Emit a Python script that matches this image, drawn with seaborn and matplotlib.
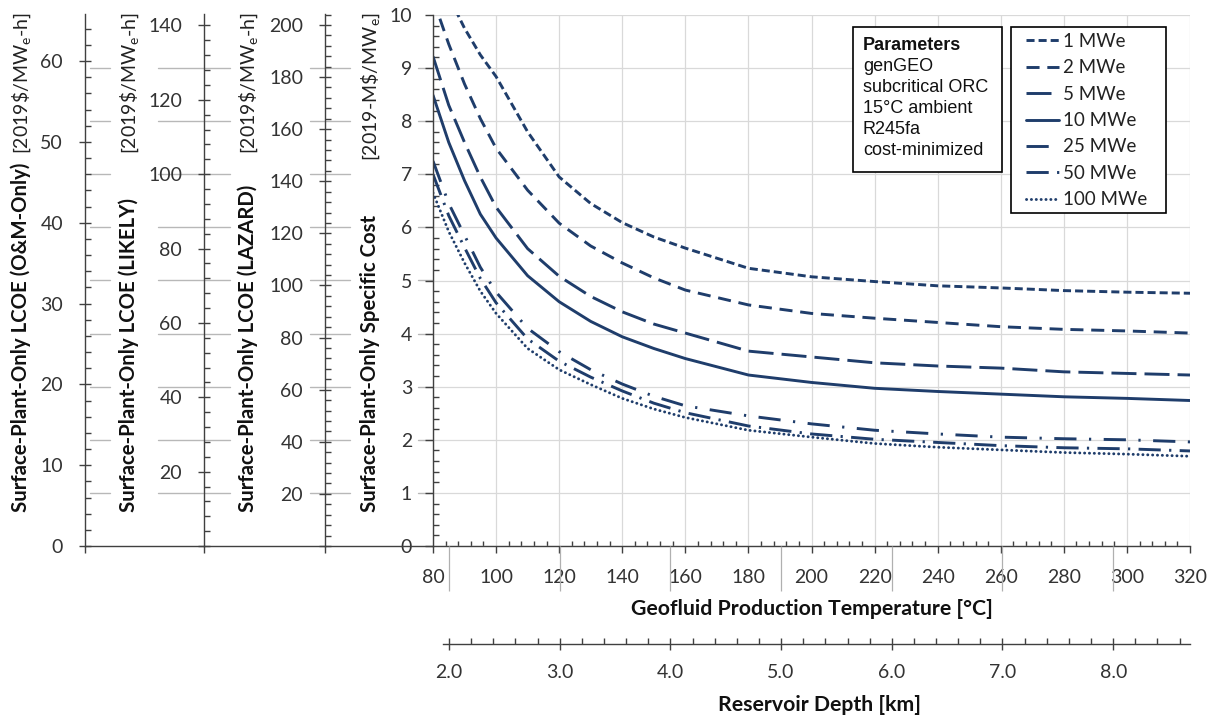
import numpy as np
import pandas as pd
import matplotlib
matplotlib.use("Agg")
import matplotlib.pyplot as plt
import seaborn as sns
from matplotlib.patches import Rectangle
from matplotlib.lines import Line2D
from matplotlib.ticker import MultipleLocator, FuncFormatter

# ---------------- data ----------------
temps = [80, 85, 90, 95, 100, 110, 120, 130, 140, 150, 160, 180, 200, 220, 240, 260, 280, 300, 320]
cost_1mwe = [11.0, 10.35, 9.75, 9.25, 8.84, 7.80, 6.95, 6.45, 6.09, 5.82, 5.61, 5.23, 5.07, 4.98, 4.90, 4.86, 4.81, 4.78, 4.76]
cost_2mwe = [10.3, 9.45, 8.70, 8.05, 7.49, 6.70, 6.08, 5.65, 5.33, 5.05, 4.82, 4.54, 4.38, 4.29, 4.21, 4.13, 4.08, 4.05, 4.01]
cost_5mwe = [9.22, 8.30, 7.60, 6.95, 6.38, 5.60, 5.08, 4.70, 4.41, 4.18, 4.01, 3.67, 3.56, 3.45, 3.39, 3.35, 3.28, 3.25, 3.22]
cost_10mwe = [8.49, 7.60, 6.88, 6.25, 5.80, 5.09, 4.60, 4.23, 3.94, 3.72, 3.53, 3.22, 3.08, 2.97, 2.91, 2.86, 2.81, 2.78, 2.74]
cost_25mwe = [7.25, 6.45, 5.85, 5.25, 4.78, 4.10, 3.66, 3.32, 3.05, 2.82, 2.64, 2.45, 2.30, 2.18, 2.11, 2.05, 2.02, 2.00, 1.96]
cost_50mwe = [7.00, 6.22, 5.62, 5.04, 4.58, 3.90, 3.48, 3.18, 2.92, 2.69, 2.51, 2.26, 2.11, 2.01, 1.95, 1.89, 1.85, 1.83, 1.79]
cost_100mwe = [6.65, 5.92, 5.33, 4.80, 4.38, 3.72, 3.32, 3.04, 2.78, 2.58, 2.42, 2.18, 2.05, 1.93, 1.86, 1.81, 1.76, 1.73, 1.69]

series_labels = ["1 MWe", "2 MWe", "5 MWe", "10 MWe", "25 MWe", "50 MWe", "100 MWe"]
depth_ticks = [2.0, 3.0, 4.0, 5.0, 6.0, 7.0, 8.0]
param_lines = ["genGEO", "subcritical ORC", "15\u00b0C ambient", "R245fa", "cost-minimized"]

# ---------------- style ----------------
sns.set_theme(style="white")
plt.rcParams["font.family"] = ["Lato", "DejaVu Sans"]
plt.rcParams["mathtext.fontset"] = "custom"
plt.rcParams["mathtext.rm"] = "Lato"
plt.rcParams["mathtext.it"] = "Lato:italic"
plt.rcParams["mathtext.bf"] = "Lato:bold"
plt.rcParams["lines.scale_dashes"] = False

NAVY = "#1f3d6b"
SPINE = "#404040"
TXT = "#333333"
GRID = "#d9d9d9"
FS = 14

W, H = 1220, 721
fig = plt.figure(figsize=(W / 100, H / 100), dpi=100)
fig.patch.set_facecolor("white")


def fx(x):
    return x / W


def fy(y):
    return 1 - y / H


def frame(x0, y0, x1, y1):
    return [fx(x0), fy(y1), (x1 - x0) / W, (y1 - y0) / H]


# ---------------- main axes ----------------
ax = fig.add_axes(frame(433, 15, 1190, 546))
ax.set_facecolor("none")

df = pd.DataFrame({"T": temps, "1 MWe": cost_1mwe, "2 MWe": cost_2mwe, "5 MWe": cost_5mwe,
                   "10 MWe": cost_10mwe, "25 MWe": cost_25mwe, "50 MWe": cost_50mwe,
                   "100 MWe": cost_100mwe})
styles = {
    "1 MWe": (5.8, 2.9),
    "2 MWe": (9.4, 5.6),
    "5 MWe": (18.0, 5.8),
    "10 MWe": None,
    "25 MWe": (16.0, 9.0, 1.6, 9.0),
    "50 MWe": (16.0, 6.0, 1.6, 6.0),
    "100 MWe": (0.1, 3.4),
}
handles = []
for lab in series_labels:
    sns.lineplot(data=df, x="T", y=lab, ax=ax, color=NAVY, lw=2.1, label=lab, legend=False)
    ln = ax.lines[-1]
    if styles[lab] is None:
        ln.set_linestyle("-")
    else:
        ln.set_dashes(styles[lab])
    if lab == "100 MWe":
        ln.set_dash_capstyle("round")
    handles.append(ln)

ax.set_xlim(80, 320)
ax.set_ylim(0, 10)
ax.set_xlabel("")
ax.set_ylabel("")
ax.grid(True, which="major", color=GRID, lw=0.9)
ax.set_axisbelow(True)
for s in ["top", "right"]:
    ax.spines[s].set_visible(False)
for s in ["left", "bottom"]:
    ax.spines[s].set_color(SPINE)
    ax.spines[s].set_linewidth(1.0)
ax.xaxis.set_major_locator(MultipleLocator(20))
ax.xaxis.set_minor_locator(MultipleLocator(4))
ax.yaxis.set_major_locator(MultipleLocator(1))
ax.yaxis.set_minor_locator(MultipleLocator(0.2))
ax.tick_params(axis="x", which="major", direction="out", length=5, width=1, color=SPINE,
               pad=11.5, labelsize=FS, labelcolor=TXT, bottom=True)
ax.tick_params(axis="x", which="minor", direction="in", length=3.6, width=1, color=SPINE, bottom=True)
ax.tick_params(axis="y", which="major", direction="out", length=5.8, width=1, color=SPINE,
               pad=9.3, labelsize=FS, labelcolor=TXT, left=True)
ax.tick_params(axis="y", which="minor", direction="in", length=4.3, width=1, color=SPINE, left=True)

# legend (frame drawn separately)
leg = ax.legend(handles, series_labels, loc="upper left", bbox_to_anchor=(fx(1026), fy(33)),
                bbox_transform=fig.transFigure, frameon=False, borderpad=0, borderaxespad=0,
                prop={"family": "Lato", "size": 13.5}, handlelength=1.75, handletextpad=0.2,
                labelspacing=0.5)
for t in leg.get_texts():
    t.set_color("#222222")
leg.set_zorder(6)
ax.add_patch(Rectangle((fx(1011), fy(213)), (1166 - 1011) / W, (213 - 27) / H,
                       transform=fig.transFigure, facecolor="white", edgecolor="black",
                       lw=1.2, zorder=4, clip_on=False))

# parameters box
ax.add_patch(Rectangle((fx(853), fy(172)), (1002 - 853) / W, (172 - 27) / H,
                       transform=fig.transFigure, facecolor="white", edgecolor="black",
                       lw=1.2, zorder=4, clip_on=False))
ax.text(fx(863), fy(50), "Parameters", transform=fig.transFigure, ha="left", va="baseline",
        fontsize=13, fontweight="bold", family="Liberation Sans", color="#111111", zorder=6)
for i, line in enumerate(param_lines):
    ax.text(fx(863), fy(71 + 21 * i), line, transform=fig.transFigure, ha="left", va="baseline",
            fontsize=13, family="Liberation Sans", color="#111111", zorder=6)

# ---------------- left secondary axes ----------------
def zero_hidden(v, pos):
    return "" if abs(v) < 1e-9 else f"{v:g}"


def left_axis(x0, x1, ymax, major, minor, hide_zero):
    a = fig.add_axes(frame(x0, 13.5, x1, 546))
    a.set_facecolor("none")
    a.set_xlim(0, 1)
    a.set_ylim(0, ymax)
    for s in ["top", "right"]:
        a.spines[s].set_visible(False)
    for s in ["left", "bottom"]:
        a.spines[s].set_color(SPINE)
        a.spines[s].set_linewidth(1.0)
    a.yaxis.set_major_locator(MultipleLocator(major))
    a.yaxis.set_minor_locator(MultipleLocator(minor))
    if hide_zero:
        a.yaxis.set_major_formatter(FuncFormatter(zero_hidden))
    a.tick_params(axis="y", which="major", direction="inout", length=8.6, width=1, color=SPINE,
                  pad=11.5, labelsize=FS, labelcolor=TXT, left=True)
    a.tick_params(axis="y", which="minor", direction="in", length=4.3, width=1, color=SPINE, left=True)
    a.set_xticks([0])
    a.set_xticklabels([])
    a.tick_params(axis="x", which="major", direction="out", length=5, width=1, color=SPINE, bottom=True)
    return a


left_axis(85, 204, 65.9, 10, 2, False)
left_axis(204, 325, 143.2, 20, 4, True)
left_axis(325, 433, 204.4, 20, 4, True)

# main-grid extensions peeking through on the left
inv = fig.transFigure.inverted()
for v in range(1, 10):
    yv = inv.transform(ax.transData.transform((80, v)))[1]
    for xa, xb in [(90, 110), (158, 230), (310, 350), (418, 433)]:
        fig.add_artist(Line2D([fx(xa), fx(xb)], [yv, yv], transform=fig.transFigure,
                              color="#b8b8b8", lw=1.0, zorder=-1))

# y-axis titles
ylab_bold = ["Surface-Plant-Only LCOE (O&M-Only)", "Surface-Plant-Only LCOE (LIKELY)",
             "Surface-Plant-Only LCOE (LAZARD)", "Surface-Plant-Only Specific Cost"]
ylab_unit = [r"[2019\$/MW$_\mathrm{e}$-h]", r"[2019\$/MW$_\mathrm{e}$-h]",
             r"[2019\$/MW$_\mathrm{e}$-h]", r"[2019-M\$/MW$_\mathrm{e}$]"]
ylab_x = [21, 129, 248, 370]
for xb, tb, tu in zip(ylab_x, ylab_bold, ylab_unit):
    fig.text(fx(xb), fy(512), tb, rotation=90, ha="center", va="bottom", fontsize=14.7,
             fontweight="bold", color="#111111", zorder=3)
    fig.text(fx(xb + 1), fy(12), tu, rotation=90, ha="center", va="top", fontsize=FS,
             color="#222222", zorder=4,
             bbox=dict(facecolor="white", edgecolor="none", pad=1.5))

# x-axis titles
fig.text(fx(811.5), fy(609), "Geofluid Production Temperature [\u00b0C]", ha="center", va="center",
         fontsize=15.3, fontweight="bold", color="#111111")
fig.text(fx(819), fy(705), "Reservoir Depth [km]", ha="center", va="center",
         fontsize=15.3, fontweight="bold", color="#111111")

# ---------------- depth axis ----------------
axd = fig.add_axes(frame(443, 546, 1190, 644))
axd.set_facecolor("none")
px_per_km = 110.7
axd.set_xlim(2.0 - (449 - 443) / px_per_km, 2.0 + (1190 - 449) / px_per_km)
axd.set_ylim(0, 1)
for s in ["top", "right", "left"]:
    axd.spines[s].set_visible(False)
axd.spines["bottom"].set_color(SPINE)
axd.spines["bottom"].set_linewidth(1.0)
axd.set_yticks([])
axd.set_xticks(depth_ticks)
axd.set_xticklabels([f"{d:.1f}" for d in depth_ticks])
axd.xaxis.set_minor_locator(MultipleLocator(0.2))
axd.tick_params(axis="x", which="major", direction="inout", length=8.6, width=1, color=SPINE,
                pad=10, labelsize=FS, labelcolor=TXT, bottom=True)
axd.tick_params(axis="x", which="minor", direction="in", length=4.3, width=1, color=SPINE, bottom=True)
axd.vlines(depth_ticks, (644 - 591) / (644 - 546), 1.0, transform=axd.get_xaxis_transform(),
           color="#b0b0b0", lw=0.9)

fig.savefig("out.png", dpi=100, facecolor="white")
